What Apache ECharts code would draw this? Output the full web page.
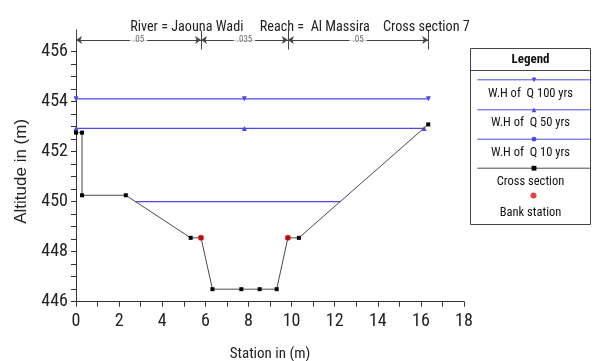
<!DOCTYPE html>
<html><head><meta charset="utf-8">
<script src="https://cdn.jsdelivr.net/npm/echarts@6/dist/echarts.min.js"></script>
<style>html,body{margin:0;padding:0;background:#fff}#c{width:594px;height:361px}</style>
</head><body><div id="c"></div>
<script>
// ---- data ----
const chartTitle = 'River = Jaouna Wadi     Reach =  Al Massira    Cross section 7';
const stations   = [0, 0.28, 0.28, 2.31, 5.32, 5.8, 6.33, 7.67, 8.52, 9.31, 9.83, 10.34, 16.34];
const elevations = [452.75, 452.75, 450.25, 450.25, 448.55, 448.55, 446.5, 446.5, 446.5, 446.5, 448.55, 448.55, 453.08];
const bankStations = [5.8, 9.83];
const bankElevations = [448.55, 448.55];
const q100Stations = [0, 7.81, 16.35];
const q100Level = 454.1;
const q50Stations = [0, 7.81, 16.15];
const q50Level = 452.92;
const q10Stations = [2.75, 12.26];
const q10Level = 450.0;
const roughBounds = [0, 5.8, 9.83, 16.34];
const roughValues = ['.05', '.035', '.05'];
const roughLevel = 456.45;
const xTicks = [0, 2, 4, 6, 8, 10, 12, 14, 16, 18];
const yTicks = [446, 448, 450, 452, 454, 456];
const yMinorTicks = [446, 446.5, 447, 447.5, 448, 448.5, 449, 449.5, 450, 450.5, 451, 451.5, 452, 452.5, 453, 453.5, 454, 454.5, 455, 455.5, 456];
const seriesNames = ['W.H of  Q 100 yrs', 'W.H of  Q 50 yrs', 'W.H of  Q 10 yrs', 'Cross section', 'Bank station'];

// ---- style ----
const NARROW = "'Roboto Condensed', 'Liberation Sans', Arial, sans-serif";
const REG = "'Liberation Sans', Arial, sans-serif";
const BLUE = '#4a4ae6';
const AX = '#333';

const zip = (xs, ys) => xs.map((x, i) => [x, ys[i]]);
const flat = (xs, y) => xs.map(x => [x, y]);

const markData = [];
for (let i = 0; i < roughValues.length; i++) {
  markData.push([{coord: [roughBounds[i], roughLevel]}, {coord: [roughBounds[i + 1], roughLevel]}]);
}
roughBounds.forEach(b => {
  markData.push([{coord: [b, roughLevel - 0.38], symbol: 'none'}, {coord: [b, roughLevel + 0.38], symbol: 'none'}]);
});
const roughLabels = roughValues.map((v, i) => ({value: [(roughBounds[i] + roughBounds[i + 1]) / 2, roughLevel], name: v}));

// legend layout (icon rows and text rows)
const legendIconTops = [79.3, 109.3, 138.7, 167.7, 195];
const legendTextYs = [94.3, 123.3, 153.3, 181.7, 213.3];

const legends = seriesNames.map((n, i) => ({
  data: [n], left: 477, top: legendIconTops[i] - 2.5, itemWidth: 113, itemHeight: 6,
  padding: 0, selectedMode: false, formatter: () => '', textStyle: {fontSize: 1},
  lineStyle: {width: 1}, itemStyle: {borderWidth: 0}
}));

const chart = echarts.init(document.getElementById('c'), null, {renderer: 'canvas'});
chart.setOption({
  animation: false,
  backgroundColor: '#fff',
  title: {text: chartTitle, left: 295, top: 15, textAlign: 'center',
    textStyle: {fontFamily: NARROW, fontSize: 14.2, fontWeight: 'normal', color: '#222'}},
  legend: legends,
  grid: {left: 76, top: 30, width: 388, height: 271.7, containLabel: false, outerBoundsMode: 'none'},
  xAxis: {
    type: 'value', min: 0, max: 18, interval: 2,
    name: 'Station in (m)', nameLocation: 'middle', nameGap: 45,
    nameTextStyle: {fontFamily: NARROW, fontSize: 15, color: '#222'},
    axisLine: {show: true, lineStyle: {color: AX, width: 1}},
    axisTick: {show: true, length: 5, lineStyle: {color: AX}},
    minorTick: {show: true, splitNumber: 2, length: 5, lineStyle: {color: AX}},
    splitLine: {show: false},
    axisLabel: {fontFamily: NARROW, fontSize: 18, color: '#222', margin: 11,
      customValues: xTicks}
  },
  yAxis: {
    type: 'value', min: 446, max: 456.85, interval: 2,
    name: 'Altitude in (m)', nameLocation: 'middle', nameGap: 46,
    nameTextStyle: {fontFamily: REG, fontSize: 17, color: '#222', padding: [0, 11, 0, 0]},
    axisLine: {show: true, lineStyle: {color: AX, width: 1}},
    axisTick: {show: true, length: 5, lineStyle: {color: AX}, customValues: yMinorTicks},
    splitLine: {show: false},
    axisLabel: {fontFamily: NARROW, fontSize: 18, color: '#222', margin: 8,
      customValues: yTicks}
  },
  graphic: [
    {type: 'rect', shape: {x: 470.5, y: 48.5, width: 120, height: 176}, style: {fill: '#fff', stroke: '#444', lineWidth: 1}, z: -10},
    {type: 'line', shape: {x1: 470.5, y1: 70.5, x2: 590.5, y2: 70.5}, style: {stroke: '#444', lineWidth: 1}},
    {type: 'text', x: 530.5, y: 59.5, style: {text: 'Legend', textAlign: 'center', textVerticalAlign: 'middle', font: "bold 13px " + NARROW, fill: '#111'}}
  ].concat(seriesNames.map((n, i) => ({
    type: 'text', x: 530.5, y: legendTextYs[i],
    style: {text: n, textAlign: 'center', textVerticalAlign: 'middle', font: "12.5px " + NARROW, fill: '#111'}
  }))),
  series: [
    {name: seriesNames[0], type: 'line', data: flat(q100Stations, q100Level),
      symbol: 'triangle', symbolRotate: 180, symbolSize: 5, showAllSymbol: true,
      lineStyle: {color: BLUE, width: 1.2}, itemStyle: {color: BLUE}, z: 3},
    {name: seriesNames[1], type: 'line', data: flat(q50Stations, q50Level),
      symbol: 'triangle', symbolSize: 5, showAllSymbol: true,
      lineStyle: {color: BLUE, width: 1.2}, itemStyle: {color: BLUE}, z: 3},
    {name: seriesNames[2], type: 'line', data: flat(q10Stations, q10Level),
      symbol: 'none',
      lineStyle: {color: BLUE, width: 1.2}, itemStyle: {color: BLUE}, z: 3},
    {name: seriesNames[3], type: 'line', data: zip(stations, elevations),
      symbol: 'rect', symbolSize: 4, showAllSymbol: true,
      lineStyle: {color: '#4a4a4a', width: 1}, itemStyle: {color: '#000'}, z: 4},
    {name: seriesNames[4], type: 'scatter', data: zip(bankStations, bankElevations),
      symbol: 'circle', symbolSize: 6, itemStyle: {color: '#e01010'}, z: 5},
    {name: 'roughness', type: 'scatter', data: roughLabels, symbol: 'circle', symbolSize: 1,
      itemStyle: {color: 'rgba(0,0,0,0)'}, silent: true, z: 6,
      label: {show: true, position: 'inside', formatter: p => p.name, fontFamily: NARROW, fontSize: 9,
        color: '#444', backgroundColor: '#fff', padding: [0, 3]},
      markLine: {silent: true, symbol: ['arrow', 'arrow'], symbolSize: 6, animation: false,
        lineStyle: {color: '#444', width: 1, type: 'solid'}, label: {show: false},
        emphasis: {disabled: true}, data: markData}}
  ]
});
</script></body></html>
